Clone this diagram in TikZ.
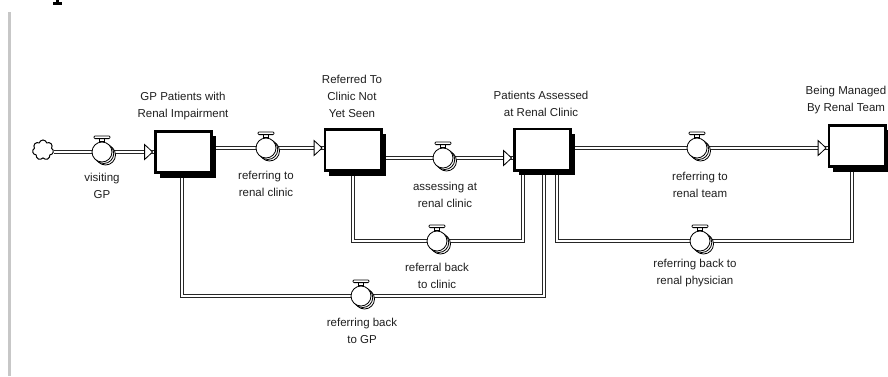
\documentclass[tikz,border=0pt]{standalone}
\usepackage{fontspec}
\newfontfamily\arialf{Liberation Sans}
\usetikzlibrary{calc,shapes.symbols,shadows,backgrounds}
\tikzset{
 stock/.style={rectangle, draw=black, line width=2.8pt, fill=white, minimum width=56.2pt, minimum height=41.2pt, inner sep=0pt, drop shadow={shadow xshift=4.5pt, shadow yshift=-5pt, fill=black, opacity=1}},
 pipe/.style={draw=black!85, line width=0.7pt, double=white, double distance=2.2pt},
 valvecirc/.style={circle, draw=black, line width=0.8pt, fill=white, minimum size=20pt, inner sep=0pt},
 vline/.style={draw=black, line width=0.8pt, fill=white},
 lab/.style={align=center, font=\arialf\fontsize{11.5}{17}\selectfont, text=black!88, inner sep=0pt},
 srccloud/.style={cloud, draw=black, cloud puffs=7, aspect=1, minimum width=21pt, minimum height=20pt, inner sep=0pt, line width=1pt, fill=white},
}
\newcommand\pipehead[1]{\draw[vline, line join=miter] (#1) -- ++(-8,-7.5) -- ++(0,15) -- cycle;}
\newcommand\fvalve[1]{%
  \draw[vline] ($(#1c)+(3.5,3)$) circle (10);
  \draw[vline] ($(#1c)+(1.75,1.5)$) circle (10);
  \node[valvecirc] (#1) at (#1c) {};
  \draw[vline] ($(#1.north)+(-2.8,0)$) rectangle ($(#1.north)+(2.8,-3)$);
  \draw[vline, rounded corners=1] ($(#1.north)+(-8,-3)$) rectangle ($(#1.north)+(8,-5.7)$);
}
\begin{document}
\begin{tikzpicture}[x=1pt,y=-1pt]
\useasboundingbox (0,0) rectangle (888,376);
\fill[black!22] (8,12) rectangle (10.7,376);
% cut-off serif stub at the top edge
\fill[black] (56,0) rectangle (59.3,2.5);
\fill[black] (52.7,2.3) rectangle (61.7,4.6);

% stocks
\node[stock] (s1) at (183.5,152) {};
\node[stock] (s2) at (353,150) {};
\node[stock] (s3) at (542.5,149.5) {};
\node[stock] (s4) at (857,146) {};
\node[srccloud] (cl) at (43,150) {};

% valve positions
\coordinate (v1c) at (102,152);
\coordinate (v2c) at (266,148);
\coordinate (v3c) at (443,158);
\coordinate (v4c) at (697,148);
\coordinate (v5c) at (437,241);
\coordinate (v6c) at (361,296);
\coordinate (v7c) at (700,241);
\coordinate (r1a) at (523,241); \coordinate (r1b) at (353,241);
\coordinate (r2a) at (544,296); \coordinate (r2b) at (182,296);
\coordinate (r3a) at (852,241); \coordinate (r3b) at (557,241);

\begin{scope}[on background layer]
\draw[pipe] (cl.east |- s1.west) -- (s1.west);
\draw[pipe] (s1.east |- v2c) -- (s2.west |- v2c);
\draw[pipe] (s2.east |- v3c) -- (s3.west |- v3c);
\draw[pipe] (s3.east |- v4c) -- (s4.west |- v4c);
\draw[pipe] (s3.south -| r1a) -- (r1a) -- (r1b) -- (s2.south -| r1b);
\draw[pipe] (s3.south -| r2a) -- (r2a) -- (r2b) -- (s1.south -| r2b);
\draw[pipe] (s4.south -| r3a) -- (r3a) -- (r3b) -- (s3.south -| r3b);
\end{scope}

\pipehead{$(s1.west)+(-1.4,0)$}
\pipehead{$(s2.west |- v2c)+(-1.4,0)$}
\pipehead{$(s3.west |- v3c)+(-1.4,0)$}
\pipehead{$(s4.west |- v4c)+(-1.4,0)$}

\fvalve{v1}
\fvalve{v2}
\fvalve{v3}
\fvalve{v4}
\fvalve{v5}
\fvalve{v6}
\fvalve{v7}

% labels
\node[lab] (l1) at (183,106) {GP Patients with\\Renal Impairment};
\node[lab] (l2) at (352,96) {Referred To\\Clinic Not\\Yet Seen};
\node[lab] (l3) at (541,104) {Patients Assessed\\at Renal Clinic};
\node[lab] (l4) at (846,100) {Being Managed\\By Renal Team};
\node[lab] (f1) at (102,186) {visiting\\GP};
\node[lab] (f2) at (266,184) {referring to\\renal clinic};
\node[lab] (f3) at (445,195) {assessing at\\renal clinic};
\node[lab] (f4) at (700,185) {referring to\\renal team};
\node[lab] (f5) at (437,276) {referral back\\to clinic};
\node[lab] (f6) at (695,273) {referring back to\\renal physician};
\node[lab] (f7) at (362,331) {referring back\\to GP};
\end{tikzpicture}
\end{document}
